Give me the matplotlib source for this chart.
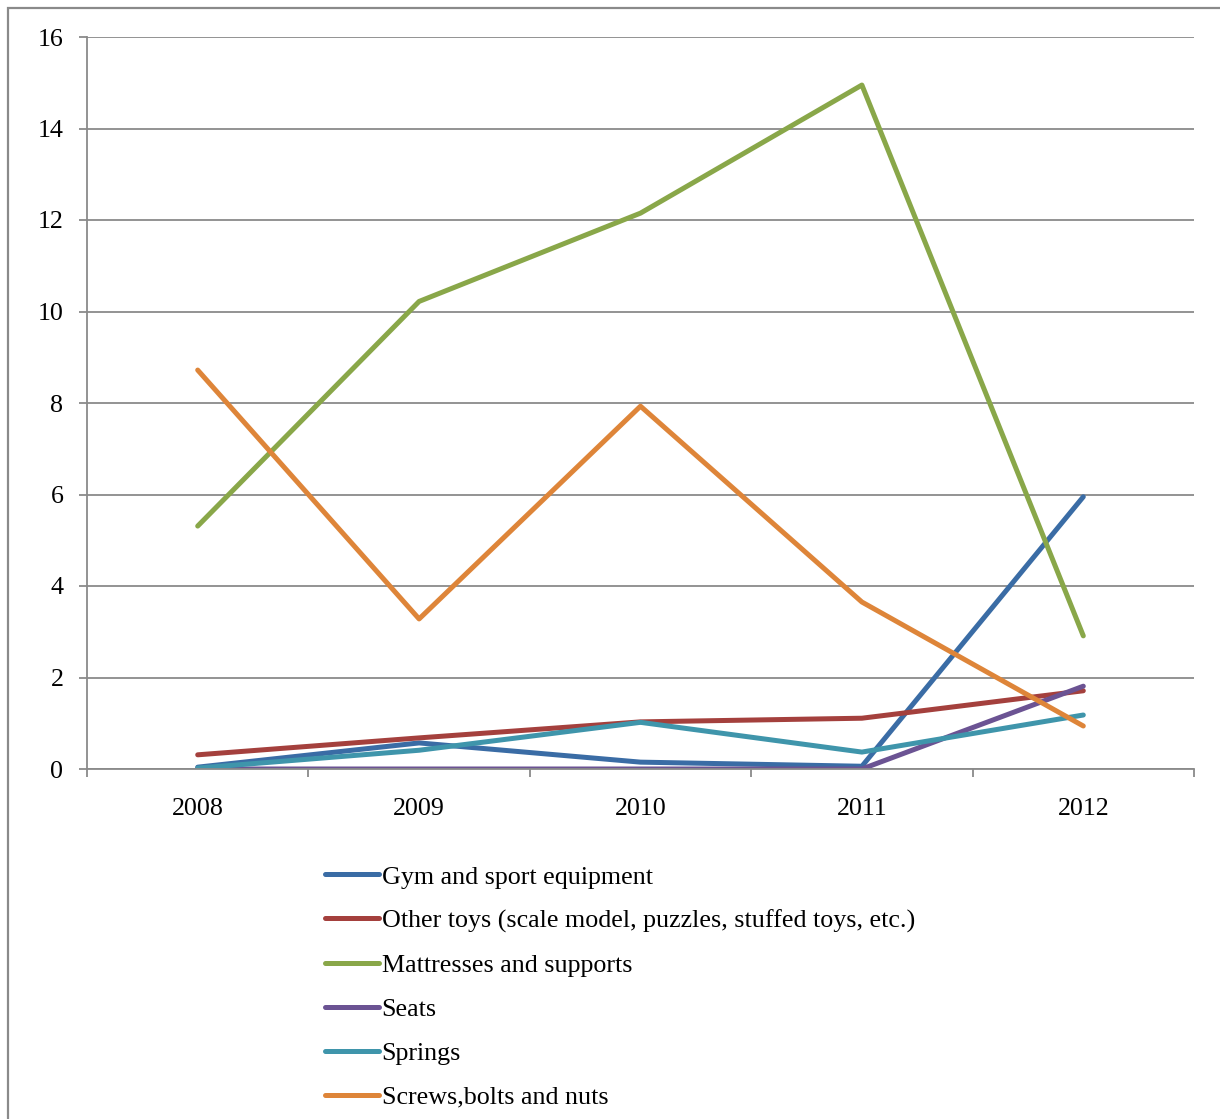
import numpy as np
import matplotlib
matplotlib.use('Agg')
import matplotlib.pyplot as plt
from matplotlib.patches import Rectangle

# === DATA ===
years = ['2008', '2009', '2010', '2011', '2012']
gym = [0.04, 0.57, 0.15, 0.06, 5.95]
other_toys = [0.31, 0.68, 1.03, 1.11, 1.71]
mattresses = [5.31, 10.22, 12.15, 14.95, 2.91]
seats = [0.0, 0.0, 0.0, 0.0, 1.81]
springs = [0.02, 0.41, 1.02, 0.37, 1.18]
screws = [8.72, 3.28, 7.93, 3.65, 0.94]

labels = ['Gym and sport equipment',
          'Other toys (scale model, puzzles, stuffed toys, etc.)',
          'Mattresses and supports',
          'Seats',
          'Springs',
          'Screws,bolts and nuts']
colors = ['#3A6CA5', '#A4403D', '#89A749', '#6B5393', '#3F95AB', '#DE8539']
series = [gym, other_toys, mattresses, seats, springs, screws]

plt.rcParams['font.family'] = ['Liberation Serif', 'DejaVu Serif']
fs = 18.7

fig = plt.figure(figsize=(12.2, 11.19), dpi=100)
ax = fig.add_axes([87/1220, 1 - 769/1119, (1194 - 87)/1220, (769 - 37)/1119])

# outer frame (left/top edges visible only)
fig.patches.append(Rectangle((8/1220, -0.1), 1.2, 1 - 8/1119 + 0.1,
                             transform=fig.transFigure, fill=False,
                             edgecolor='#8a8a8a', linewidth=1.6))

x = np.arange(len(years))
handles = []
for vals, col, lbl in zip(series, colors, labels):
    h, = ax.plot(x, vals, color=col, linewidth=3.6, solid_capstyle='round',
                 solid_joinstyle='round', label=lbl)
    handles.append(h)

ax.set_xlim(-0.5, 4.5)
ax.set_ylim(0, 16)
ax.set_yticks(np.arange(0, 17, 2))
ax.yaxis.grid(True, color='#8a8a8a', linewidth=1.3)
ax.set_axisbelow(True)

# category boundaries as major ticks, labels at centres
ax.set_xticks(np.arange(-0.5, 4.6, 1.0))
ax.set_xticklabels([])
ax.set_xticks(x, minor=True)
ax.set_xticklabels(years, minor=True)
ax.tick_params(axis='x', which='major', length=6, width=1.3, color='#8a8a8a', direction='out')
ax.tick_params(axis='x', which='minor', length=0, pad=21, labelsize=fs)
ax.tick_params(axis='y', length=6, width=1.3, color='#8a8a8a', pad=11, labelsize=fs)

for s in ['top', 'right']:
    ax.spines[s].set_visible(False)
for s in ['left', 'bottom']:
    ax.spines[s].set_color('#8a8a8a')
    ax.spines[s].set_linewidth(1.3)

leg = fig.legend(handles=handles, loc='upper left',
                 bbox_to_anchor=(315/1220, 1 - 855/1119),
                 frameon=False, fontsize=fs, handlelength=2.05,
                 handletextpad=0.12, labelspacing=0.8, borderaxespad=0)

fig.savefig('out.png', dpi=100)
